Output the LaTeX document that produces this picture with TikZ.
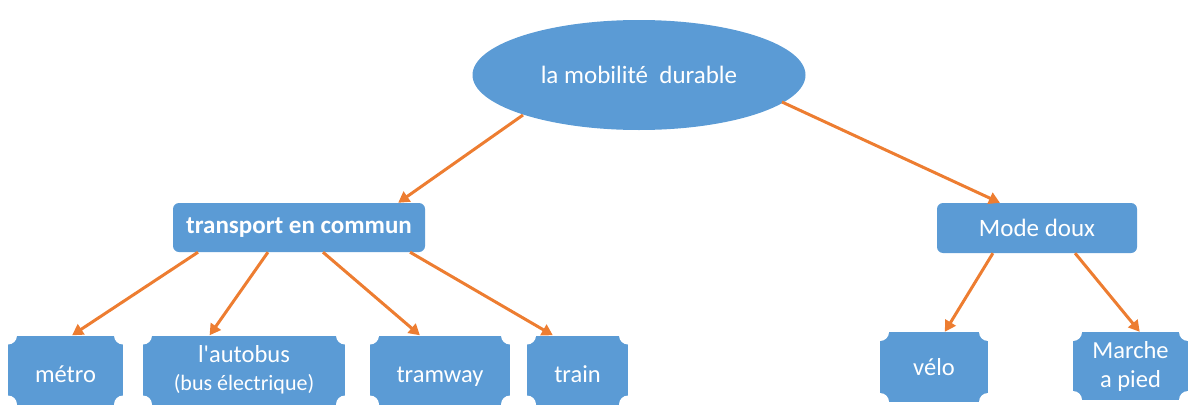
\documentclass[tikz,border=0pt]{standalone}
\usepackage{fontspec}
\setmainfont{Carlito}
\usetikzlibrary{arrows.meta,calc,shapes.geometric}
\definecolor{boxblue}{HTML}{5B9BD5}
\definecolor{arroworange}{HTML}{ED7D31}
\tikzset{
  ovalbox/.style={ellipse, fill=boxblue, text=white, inner sep=0pt, font=\fontsize{25}{27}\selectfont},
  midbox/.style={rectangle, rounded corners=6pt, fill=boxblue, text=white, inner sep=0pt, font=\fontsize{25}{27}\selectfont},
  plaquebox/.style={rectangle, fill=boxblue, text=white, inner sep=0pt, align=center,
    font=\fontsize{24.5}{29}\selectfont,
    path picture={
      \fill[white] (path picture bounding box.north west) circle (9pt)
                   (path picture bounding box.north east) circle (9pt)
                   (path picture bounding box.south west) circle (9pt)
                   (path picture bounding box.south east) circle (9pt);}},
  lowtext/.style={text height=26pt, text depth=2pt},
  link/.style={draw=arroworange, line width=3pt, -{Triangle[length=11pt,width=12pt]}}
}
\begin{document}
\begin{tikzpicture}[x=1pt,y=-1pt]
\useasboundingbox (0,0) rectangle (1195,407);
% top
\node[ovalbox, minimum width=333pt, minimum height=110pt] (top) at (639,75) {la mobilité\ \ durable};
% middle
\node[midbox, minimum width=252pt, minimum height=49pt, font=\bfseries\fontsize{25}{27}\selectfont] (tc) at (299,227.5) {transport en commun};
\node[midbox, minimum width=200pt, minimum height=50pt] (md) at (1037,228) {Mode doux};
% bottom
\node[plaquebox, lowtext, minimum width=115pt, minimum height=69pt] (metro) at (65.5,370) {métro};
\node[plaquebox, minimum width=202pt, minimum height=69pt] (bus) at (244,370) {l\textquotesingle autobus\\[-1pt]{\fontsize{22}{27}\selectfont(bus électrique)}};
\node[plaquebox, lowtext, minimum width=140pt, minimum height=69pt] (tram) at (440,370) {tramway};
\node[plaquebox, lowtext, minimum width=101pt, minimum height=69pt] (train) at (577.5,370) {train};
\node[plaquebox, minimum width=108pt, minimum height=70pt] (velo) at (934,367) {vélo};
\node[plaquebox, minimum width=115pt, minimum height=68pt] (marche) at (1130.5,366) {Marche\\a pied};
% connectors
\draw[link] ($(top.center)+(-116,40)$) -- ($(tc.north west)!0.893!(tc.north east)$);
\draw[link] ($(top.center)+(143,27)$) -- ($(md.north west)!0.315!(md.north east)$);
\draw[link] ($(tc.south west)!0.1!(tc.south east)$) -- ($(metro.north west)!0.557!(metro.north east)$);
\draw[link] ($(tc.south west)!0.377!(tc.south east)$) -- ($(bus.north west)!0.33!(bus.north east)$);
\draw[link] ($(tc.south west)!0.595!(tc.south east)$) -- ($(tram.north west)!0.357!(tram.north east)$);
\draw[link] ($(tc.south west)!0.94!(tc.south east)$) -- ($(train.north west)!0.257!(train.north east)$);
\draw[link] ($(md.south west)!0.28!(md.south east)$) -- ($(velo.north west)!0.6!(velo.north east)$);
\draw[link] ($(md.south west)!0.69!(md.south east)$) -- ($(marche.north west)!0.58!(marche.north east)$);
\end{tikzpicture}
\end{document}
